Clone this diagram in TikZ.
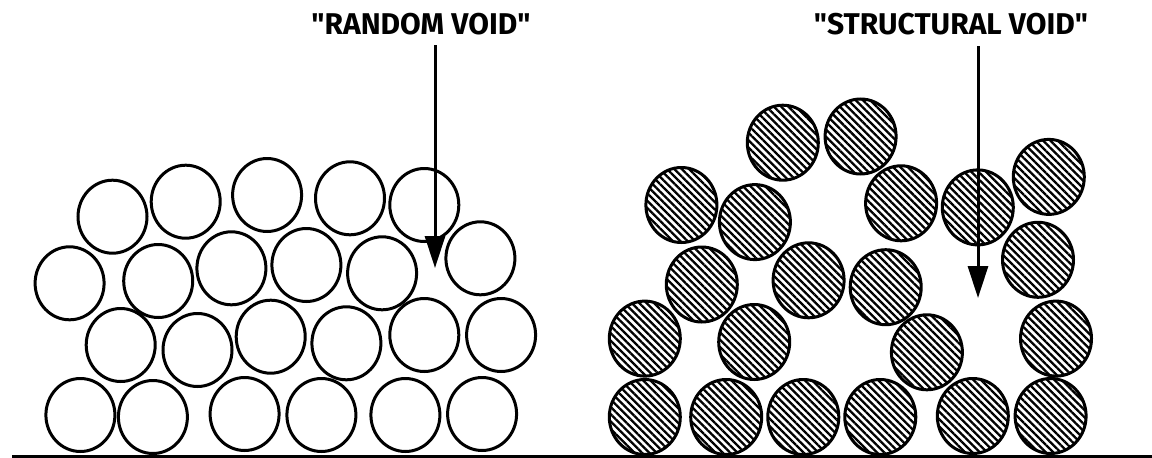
\documentclass[tikz,border=0pt]{standalone}
\usepackage{fontspec}
\setmainfont{Fira Sans}[Ligatures=TeXOff]
\usetikzlibrary{patterns.meta,arrows.meta}
\begin{document}
\begin{tikzpicture}[x=1pt,y=-1pt,
  open/.style={draw=black, line width=3pt, fill=white},
  hatched/.style={draw=black, line width=3pt, pattern={Lines[angle=-45,distance=5.2pt,line width=2.3pt]}},
  lbl/.style={font=\bfseries\fontsize{30}{34}\selectfont, inner sep=0pt, anchor=center},
  voidarrow/.style={line width=3pt, -{Triangle[length=32pt,width=20pt]}},
  ground/.style={line width=3pt}]
\useasboundingbox[fill=white] (0,0) rectangle (1152,458);
% ---- left: random packing ----
\foreach \x/\y in {112.5/216.7,185.7/201.7,267.1/195,350/198.3,424.3/205,
  69.6/283.3,158.2/281,231.4/268.3,306.4/265,382.1/273.3,480.4/258.3,
  120.7/345,197.5/350,270.7/336.7,346.4/343.3,424.3/335,501.1/335,
  80.4/415,152.9/417,244.6/414,321.4/415,405.4/415,482.1/414}
  \path[open] (\x,\y) ellipse [x radius=34.5pt, y radius=36.5pt];
% ---- right: structural packing ----
\foreach \x/\y in {782.8/142.7,860.6/136.5,1048.8/176.9,
  681.4/205,754.9/222.1,901.1/203.3,977.8/207.4,
  701.8/284.5,808.6/280.3,885.7/287.2,1038/259.8,
  644.8/338.6,754.2/342,926.9/352.3,1056/338.6,
  644.8/417,726.2/417,803.3/417,880.3/417,972.8/416,1050.6/416}
  \path[hatched] (\x,\y) ellipse [x radius=35.5pt, y radius=37.5pt];
% ---- ground ----
\coordinate (g0) at (12,456);
\coordinate (g1) at (1152,456);
\draw[ground] (g0) -- (g1);
% ---- labels and arrows ----
\node[lbl] (rv) at (421,24) {"RANDOM VOID"};
\node[lbl] (sv) at (951,24) {"STRUCTURAL VOID"};
\coordinate (rvs) at (435,45);
\coordinate (rvt) at (435,268);
\coordinate (svs) at (978,46);
\coordinate (svt) at (978,298);
\draw[voidarrow] (rvs) -- (rvt);
\draw[voidarrow] (svs) -- (svt);
\end{tikzpicture}
\end{document}
